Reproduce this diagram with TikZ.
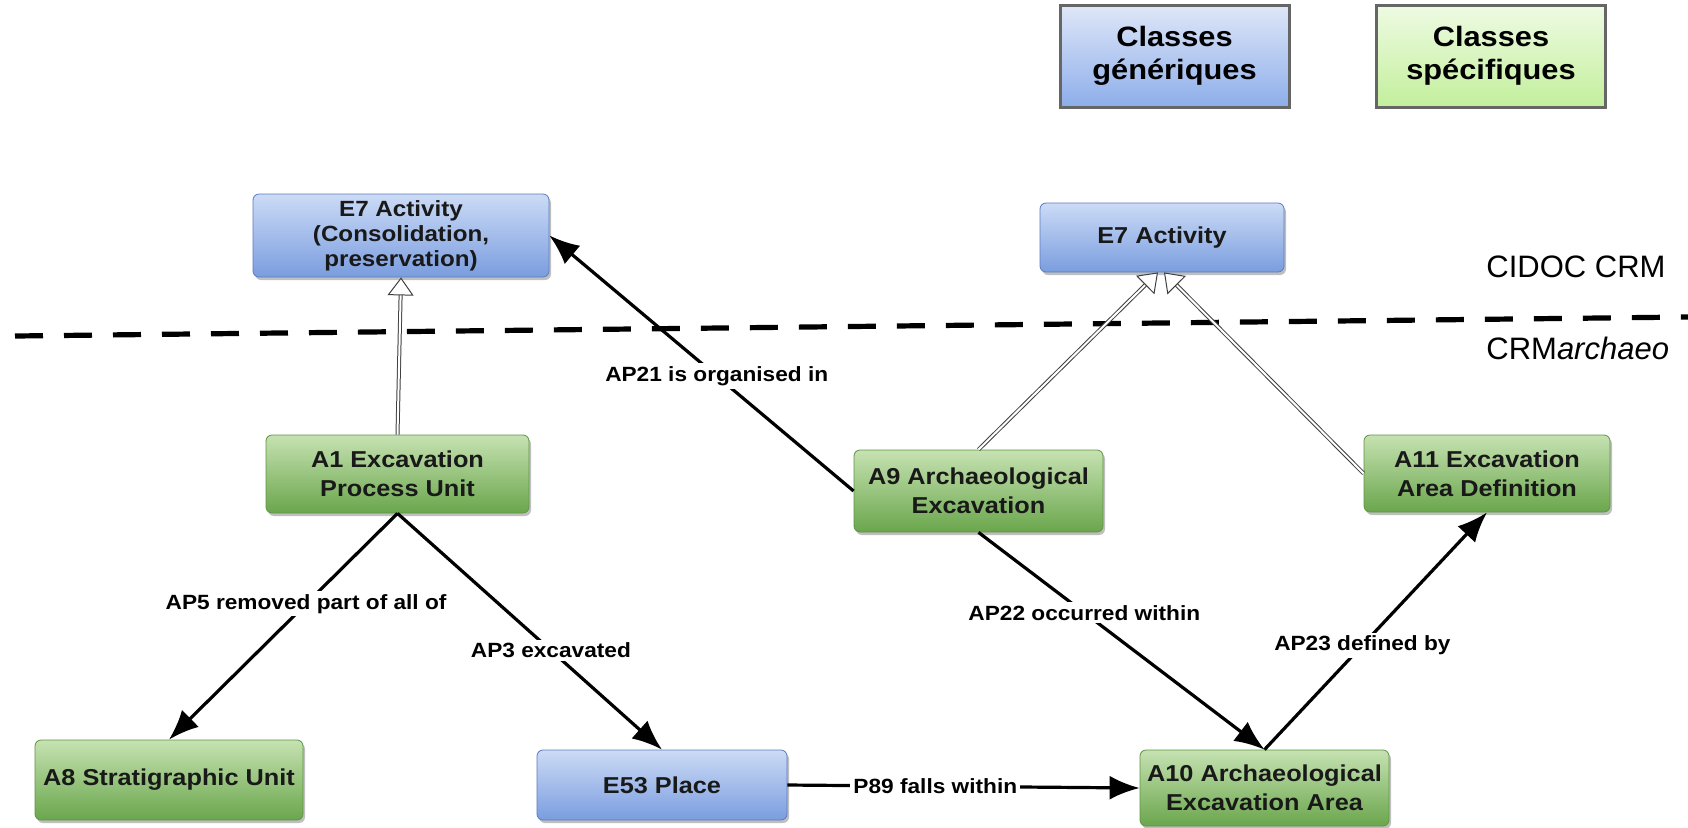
\documentclass[tikz,border=0pt]{standalone}
\usepackage{fontspec}
\setmainfont{Liberation Sans}
\newfontfamily\boxfont{Liberation Sans}[FakeStretch=1.1]
\usetikzlibrary{arrows.meta}
\usetikzlibrary{shadows}

\definecolor{bluetop}{HTML}{CCDBF6}
\definecolor{bluebot}{HTML}{7A9DDF}
\definecolor{blueline}{HTML}{5B7BBF}
\definecolor{greentop}{HTML}{C6E2B2}
\definecolor{greenbot}{HTML}{6AA64C}
\definecolor{greenline}{HTML}{5E9443}
\definecolor{legbluetop}{HTML}{DFE7F8}
\definecolor{legbluebot}{HTML}{8DAEEA}
\definecolor{leggreentop}{HTML}{EEFBE3}
\definecolor{leggreenbot}{HTML}{C3EF9C}

\begin{document}
\begin{tikzpicture}[x=0.5pt, y=-0.5pt]
        \tikzset{class/.style = {shape=rectangle, rounded corners=3pt, draw, align=center, inner sep=2pt, text=black!90, font=\boxfont\fontsize{11.5}{14.5}\selectfont\bfseries, drop shadow={shadow xshift=1pt, shadow yshift=-1.5pt, opacity=0.5}}}
        \tikzset{generic/.style = {class, draw=blueline, top color=bluetop, bottom color=bluebot}}
        \tikzset{specific/.style = {class, draw=greenline, top color=greentop, bottom color=greenbot}}
        \tikzset{legend/.style = {shape=rectangle, draw=black!60, line width=1.5pt, align=center, font=\boxfont\fontsize{14}{16.5}\selectfont\bfseries, minimum width=114.5pt, minimum height=51pt}}
        \tikzset{edge/.style = {-{Latex[length=15pt, width=12pt]}, line width=1.6pt}}
        \tikzset{isa/.style = {-{Triangle[open, length=9pt, width=13pt, fill=white]}, draw=black!75, double=white, double distance=1pt, line width=0.5pt}}
        \tikzset{prop/.style = {fill=white, inner sep=1.5pt, font=\boxfont\fontsize{10.3}{12}\selectfont\bfseries}}

        \useasboundingbox (0,0) rectangle (1688,827);

        % legende
        \node[legend, top color=legbluetop, bottom color=legbluebot] (genleg) at (1174.5,56) {Classes\\génériques};
        \node[legend, top color=leggreentop, bottom color=leggreenbot] (specleg) at (1491,56) {Classes\\spécifiques};

        % separation des deux modeles
        \draw[line width=2.6pt, dash pattern=on 14pt off 10.5pt] (15,336) -- (1688,317);
        \node[anchor=west, inner sep=0pt, font=\fontsize{15.5}{18}\selectfont] (cidoc) at (1486,267) {CIDOC CRM};
        \node[anchor=west, inner sep=0pt, font=\fontsize{15.5}{18}\selectfont] (crmarch) at (1486,348) {CRM\textit{archaeo}};

        \node[generic, minimum width=148pt, minimum height=41.5pt, font=\boxfont\fontsize{11}{12.5}\selectfont\bfseries] (E7a) at (401,235.5) {E7 Activity\\(Consolidation,\\preservation)};
        \node[generic, minimum width=122pt, minimum height=34.5pt] (E7b) at (1162,237.5) {E7 Activity};
        \node[specific, minimum width=131.5pt, minimum height=39pt] (A1) at (397.5,474) {A1 Excavation\\Process Unit};
        \node[specific, minimum width=124.5pt, minimum height=41pt] (A9) at (978.5,491) {A9 Archaeological\\Excavation};
        \node[specific, minimum width=123pt, minimum height=38.5pt] (A11) at (1487,473.5) {A11 Excavation\\Area Definition};
        \node[specific, minimum width=134pt, minimum height=40pt] (A8) at (169,780) {A8 Stratigraphic Unit};
        \node[generic, minimum width=125pt, minimum height=35pt] (E53) at (662,785) {E53 Place};
        \node[specific, minimum width=124.5pt, minimum height=38pt] (A10) at (1264.5,788) {A10 Archaeological\\Excavation Area};

        \draw[isa] (A1.north) to (E7a.south);
        \draw[isa] (A9.north) to ([xshift=-2pt]E7b.south);
        \draw[isa] (A11.west) to ([xshift=1pt]E7b.south);

        \draw[edge] (A9.west) to node[prop, pos=0.45] {AP21 is organised in} (E7a.east);
        \draw[edge] (A1.south) to node[prop, pos=0.4] {AP5 removed part of all of} (A8.north);
        \draw[edge] (A1.south) to node[prop, pos=0.58] {AP3 excavated} (E53.north);
        \draw[edge] (A9.south) to node[prop, pos=0.37] {AP22 occurred within} (A10.north);
        \draw[edge] (A10.north) to node[prop, pos=0.44] {AP23 defined by} (A11.south);
        \draw[edge] (E53.east) to node[prop, pos=0.42] {P89 falls within} (A10.west);
      \end{tikzpicture}
\end{document}
